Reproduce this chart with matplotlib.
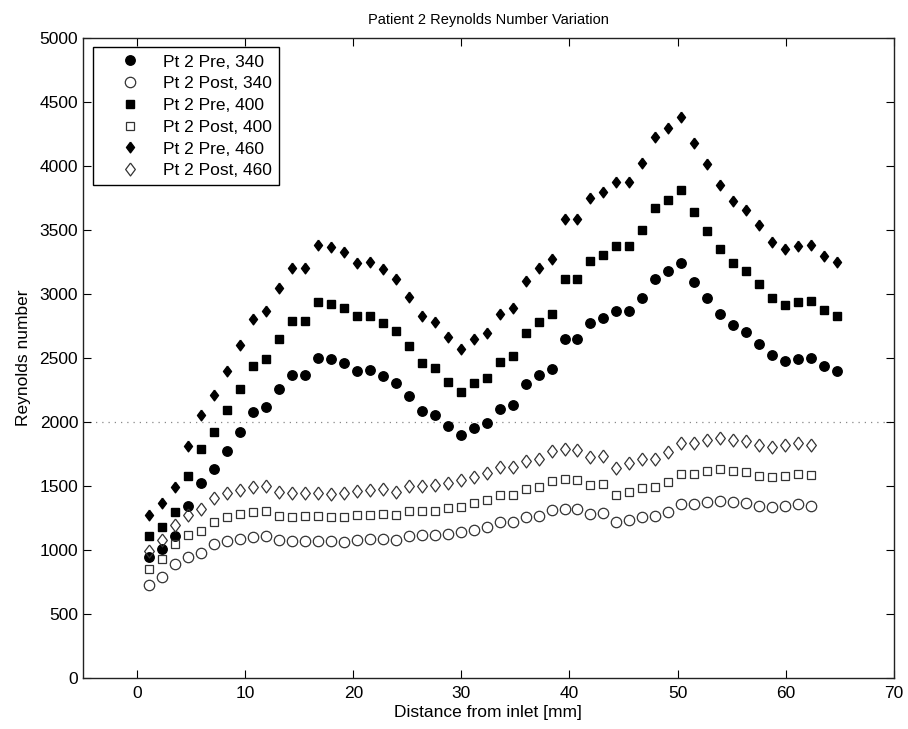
import matplotlib
matplotlib.use("Agg")
import matplotlib.pyplot as plt

plt.rcParams['font.family'] = ['Liberation Sans', 'DejaVu Sans']

# -----------------------------
# data
# -----------------------------
distance = [1.14, 2.34, 3.54, 4.74, 5.94, 7.14, 8.34, 9.54, 10.74, 11.94,
            13.14, 14.34, 15.54, 16.74, 17.94, 19.14, 20.34, 21.54, 22.74, 23.94,
            25.14, 26.34, 27.54, 28.74, 29.94, 31.14, 32.34, 33.54, 34.74, 35.94,
            37.14, 38.34, 39.54, 40.74, 41.94, 43.14, 44.34, 45.54, 46.74, 47.94,
            49.14, 50.34, 51.54, 52.74, 53.94, 55.14, 56.34, 57.54, 58.74, 59.94,
            61.14, 62.34, 63.54, 64.74]

pre_340 = [943, 1005, 1107, 1344, 1521, 1630, 1773, 1919, 2078, 2120,
           2255, 2367, 2367, 2503, 2490, 2464, 2401, 2403, 2359, 2307,
           2203, 2089, 2055, 1970, 1898, 1951, 1990, 2099, 2133, 2294,
           2367, 2414, 2646, 2651, 2771, 2810, 2867, 2870, 2971, 3120,
           3182, 3245, 3091, 2971, 2846, 2755, 2701, 2612, 2521, 2474,
           2495, 2500, 2440, 2401]
pre_400 = [1109, 1182, 1297, 1578, 1789, 1919, 2091, 2259, 2440, 2492,
           2651, 2789, 2789, 2940, 2924, 2893, 2826, 2824, 2776, 2711,
           2594, 2458, 2419, 2315, 2237, 2302, 2341, 2471, 2516, 2698,
           2784, 2844, 3115, 3117, 3260, 3305, 3375, 3375, 3497, 3673,
           3737, 3812, 3638, 3495, 3349, 3245, 3182, 3076, 2966, 2912,
           2935, 2943, 2872, 2826]
pre_460 = [1276, 1365, 1495, 1813, 2058, 2210, 2401, 2599, 2802, 2867,
           3049, 3203, 3203, 3383, 3365, 3326, 3240, 3247, 3193, 3120,
           2979, 2828, 2779, 2662, 2568, 2646, 2693, 2841, 2888, 3104,
           3201, 3271, 3583, 3583, 3747, 3799, 3877, 3877, 4021, 4224,
           4299, 4385, 4180, 4018, 3852, 3729, 3656, 3536, 3409, 3349,
           3375, 3383, 3299, 3247]

post_340 = [727, 792, 888, 943, 979, 1044, 1070, 1086, 1104, 1112,
            1078, 1070, 1070, 1070, 1070, 1065, 1078, 1083, 1089, 1078,
            1112, 1115, 1115, 1125, 1138, 1156, 1182, 1221, 1219, 1255,
            1266, 1313, 1323, 1318, 1281, 1286, 1216, 1237, 1260, 1268,
            1299, 1357, 1359, 1372, 1385, 1372, 1365, 1344, 1336, 1344,
            1357, 1346]
post_400 = [854, 932, 1044, 1115, 1146, 1221, 1260, 1279, 1297, 1307,
            1268, 1260, 1263, 1266, 1260, 1260, 1271, 1276, 1279, 1271,
            1307, 1307, 1307, 1326, 1339, 1365, 1391, 1432, 1432, 1477,
            1492, 1542, 1555, 1547, 1505, 1513, 1430, 1455, 1483, 1490,
            1534, 1596, 1596, 1617, 1630, 1617, 1609, 1581, 1570, 1581,
            1594, 1583]
post_460 = [995, 1078, 1195, 1271, 1323, 1404, 1443, 1469, 1495, 1500,
            1456, 1443, 1448, 1448, 1440, 1443, 1461, 1469, 1477, 1456,
            1503, 1503, 1505, 1521, 1547, 1568, 1599, 1651, 1646, 1698,
            1714, 1773, 1792, 1779, 1729, 1737, 1643, 1677, 1707, 1714,
            1766, 1839, 1839, 1859, 1872, 1859, 1852, 1818, 1807, 1818,
            1833, 1823]

labels = ["Pt 2 Pre, 340", "Pt 2 Post, 340", "Pt 2 Pre, 400",
          "Pt 2 Post, 400", "Pt 2 Pre, 460", "Pt 2 Post, 460"]

# matlab-like diamond (a bit taller than wide)
diamond = [(0, 1), (0.75, 0), (0, -1), (-0.75, 0), (0, 1)]

FS = 12.5


def main():
    fig = plt.figure(figsize=(9.08, 7.29), dpi=100)
    ax = fig.add_axes([0.0914, 0.07, 0.893, 0.878])

    ax.axhline(2000, color="#888888", linestyle=(0, (1, 4)), linewidth=0.9, zorder=1)

    n_post = len(post_340)
    ax.plot(distance, pre_340, "o", ms=6.8, mfc="black", mec="black", label=labels[0])
    ax.plot(distance[:n_post], post_340, "o", ms=7.5, mfc="none", mec="#333333", mew=0.9, label=labels[1])
    ax.plot(distance, pre_400, "s", ms=5.7, mfc="black", mec="black", label=labels[2])
    ax.plot(distance[:n_post], post_400, "s", ms=6.3, mfc="none", mec="#333333", mew=0.9, label=labels[3])
    ax.plot(distance, pre_460, marker=diamond, ls="none", ms=7.7, mfc="black", mec="black", label=labels[4])
    ax.plot(distance[:n_post], post_460, marker=diamond, ls="none", ms=9.3, mfc="none", mec="#333333", mew=0.9, label=labels[5])

    ax.set_xlim(-5, 70)
    ax.set_ylim(0, 5000)
    ax.set_xticks(range(0, 71, 10))
    ax.set_yticks(range(0, 5001, 500))
    ax.tick_params(direction="in", top=True, right=True, length=6, labelsize=FS)
    ax.tick_params(axis="x", pad=6)
    for s in ax.spines.values():
        s.set_linewidth(1.0)
        s.set_color("#222222")

    ax.set_xlabel("Distance from inlet [mm]", fontsize=FS, labelpad=3)
    ax.set_ylabel("Reynolds number", fontsize=FS, labelpad=6)
    ax.set_title("Patient 2 Reynolds Number Variation", fontsize=10.5, pad=10)

    leg = ax.legend(loc="upper left", fontsize=FS, fancybox=False, framealpha=1,
                    edgecolor="black", borderaxespad=0.55, handletextpad=0.15,
                    labelspacing=0.38, handlelength=3.5, borderpad=0.4)
    leg.get_frame().set_linewidth(1.0)

    fig.savefig("out.png", dpi=100)
    plt.close(fig)


if __name__ == "__main__":
    main()
